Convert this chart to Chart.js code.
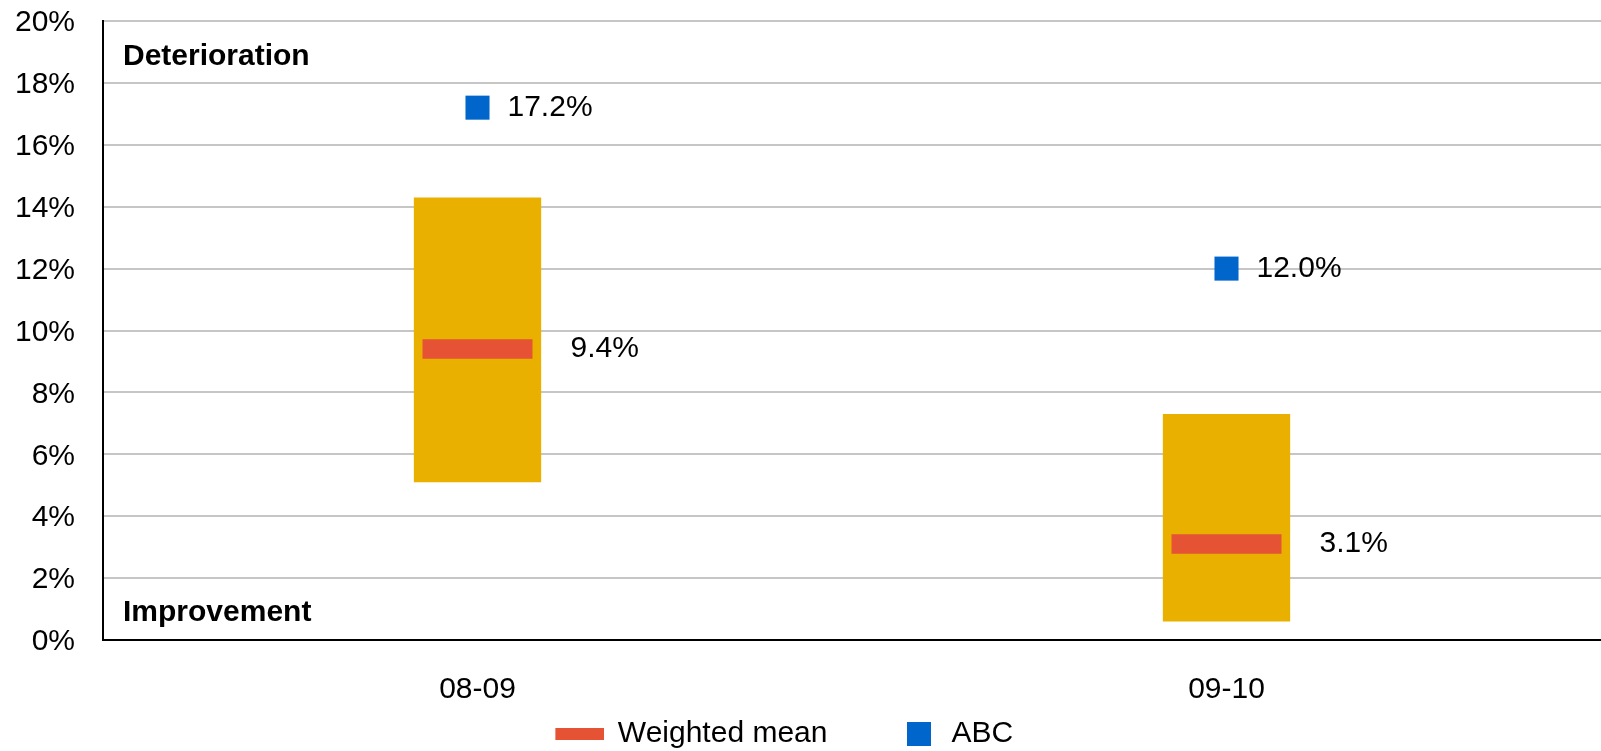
<!DOCTYPE html>
<html>
<head>
<meta charset="utf-8">
<script src="https://cdn.jsdelivr.net/npm/chart.js@4/dist/chart.umd.min.js"></script>
<style>
  html, body { margin: 0; padding: 0; background: #ffffff; }
  #wrap { width: 1601px; height: 751px; position: relative; }
</style>
</head>
<body>
<div id="wrap"><canvas id="chart"></canvas></div>
<script>
// Periods on the category axis
const periods = ['08-09', '09-10'];
// Low and high ends of the range band per period (%)
const rangeLow = [5.1, 0.6];
const rangeHigh = [14.3, 7.3];
// Weighted mean per period (%)
const weightedMean = [9.4, 3.1];
// ABC per period (%)
const abcValues = [17.2, 12.0];
// Value axis ticks (%)
const yMin = 0;
const yMax = 20;
const yStep = 2;
// Legend entries and side notes
const legendNames = ['Weighted mean', 'ABC'];
const topNote = 'Deterioration';
const bottomNote = 'Improvement';

const GOLD = '#EAB000';
const RED = '#E55334';
const BLUE = '#0066CC';
const GRID = '#C6C6C6';
const FONT = '"Liberation Sans", Arial, Helvetica, sans-serif';

Chart.defaults.font.family = FONT;
Chart.defaults.color = '#000';

// Legend swatches (drawn inside a wider transparent tile)
function makeSwatch(w, h, color, x0, sw) {
  const c = document.createElement('canvas');
  c.width = w; c.height = h;
  const g = c.getContext('2d');
  g.fillStyle = color;
  g.fillRect(x0, 0, sw, h);
  return c;
}
const meanSwatch = makeSwatch(102, 12, RED, 53, 49);
const abcSwatch = makeSwatch(88, 24, BLUE, 64, 24);

// Value labels beside the markers
const valueLabels = {
  id: 'valueLabels',
  afterDatasetsDraw(chart) {
    const ctx = chart.ctx;
    ctx.save();
    ctx.font = '30px ' + FONT;
    ctx.fillStyle = '#000';
    ctx.textAlign = 'left';
    ctx.textBaseline = 'middle';
    [[1, 93], [2, 30]].forEach(([di, dx]) => {
      const ds = chart.data.datasets[di];
      chart.getDatasetMeta(di).data.forEach((el, i) => {
        ctx.fillText(ds.data[i].toFixed(1) + '%', el.x + dx, el.y);
      });
    });
    ctx.restore();
  }
};

// Direction notes inside the plot
const sideNotes = {
  id: 'sideNotes',
  afterDraw(chart) {
    const { ctx, chartArea } = chart;
    ctx.save();
    ctx.font = 'bold 30px ' + FONT;
    ctx.fillStyle = '#000';
    ctx.textAlign = 'left';
    ctx.textBaseline = 'alphabetic';
    ctx.fillText(topNote, chartArea.left + 20, chartArea.top + 44);
    ctx.fillText(bottomNote, chartArea.left + 20, chartArea.bottom - 19);
    ctx.restore();
  }
};

// Nudge the legend row into place under the plot
const legendNudge = {
  id: 'legendNudge',
  afterLayout(chart) {
    const l = chart.legend;
    l.left -= 42; l.right -= 42;
    l.top += 8; l.bottom += 8;
  }
};

new Chart(document.getElementById('chart'), {
  type: 'bar',
  data: {
    labels: periods,
    datasets: [
      {
        type: 'bar',
        label: 'Range',
        data: periods.map((_, i) => [rangeLow[i], rangeHigh[i]]),
        backgroundColor: GOLD,
        borderWidth: 0,
        barPercentage: 0.17,
        categoryPercentage: 1,
        order: 3
      },
      {
        type: 'line',
        label: legendNames[0],
        data: weightedMean,
        showLine: false,
        pointStyle: 'line',
        pointRadius: 55,
        pointBorderWidth: 19.5,
        pointBorderColor: RED,
        pointBackgroundColor: RED,
        borderColor: RED,
        order: 2
      },
      {
        type: 'line',
        label: legendNames[1],
        data: abcValues,
        showLine: false,
        pointStyle: 'rect',
        pointRadius: 17,
        pointBorderWidth: 0,
        pointBackgroundColor: BLUE,
        borderColor: BLUE,
        order: 1
      }
    ]
  },
  options: {
    responsive: true,
    maintainAspectRatio: false,
    animation: false,
    events: [],
    layout: { autoPadding: false, padding: { top: 21, left: 0, right: 0, bottom: 0 } },
    plugins: {
      tooltip: { enabled: false },
      legend: {
        position: 'bottom',
        labels: {
          usePointStyle: true,
          pointStyleWidth: 99,
          padding: 10,
          color: '#000',
          font: { size: 30 },
          generateLabels: () => [
            { text: legendNames[0], pointStyle: meanSwatch, fillStyle: RED, strokeStyle: RED, lineWidth: 0, hidden: false, datasetIndex: 1, fontColor: '#000' },
            { text: legendNames[1], pointStyle: abcSwatch, fillStyle: BLUE, strokeStyle: BLUE, lineWidth: 0, hidden: false, datasetIndex: 2, fontColor: '#000' }
          ]
        }
      }
    },
    scales: {
      x: {
        offset: true,
        grid: { display: false, drawTicks: false },
        border: { display: true, color: '#000', width: 2 },
        ticks: { color: '#000', font: { size: 30 }, padding: 32, maxRotation: 0, minRotation: 0, autoSkip: false },
        afterFit(s) { s.height = 61; s.paddingLeft = 0; s.paddingRight = 0; }
      },
      y: {
        min: yMin,
        max: yMax,
        ticks: {
          stepSize: yStep,
          color: '#000',
          font: { size: 30 },
          padding: 28,
          labelOffset: 2,
          callback: v => v + '%'
        },
        grid: {
          drawTicks: false,
          lineWidth: 2,
          color: c => (c.tick && c.tick.value === 0 ? '#000' : GRID)
        },
        border: { display: true, color: '#000', width: 2 },
        afterFit(s) { s.width = 103; s.paddingTop = 0; s.paddingBottom = 0; }
      }
    }
  },
  plugins: [valueLabels, sideNotes, legendNudge]
});
</script>
</body>
</html>
